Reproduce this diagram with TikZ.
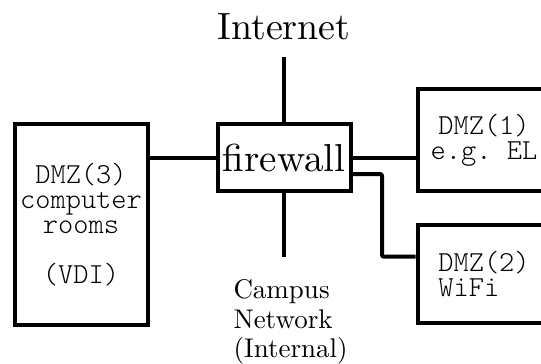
\documentclass[tikz,border=0pt]{standalone}
\usepackage{fontspec}
\setmainfont{lmroman10-regular.otf}
\setmonofont{lmmonolt10-regular.otf}
\usetikzlibrary{positioning}
\usetikzlibrary{calc}
\tikzstyle{link} = [draw, line width=4pt]

\begin{document}
\begin{tikzpicture}[x=1pt, y=-1pt,
        zone/.style={draw, line width=4pt, rectangle, minimum width=133pt,
            inner sep=0pt, font=\fontsize{29}{25}\selectfont\ttfamily},
        caption/.style={inner sep=0pt}]
        \useasboundingbox (0,0) rectangle (541,364);
        \clip (0,0) rectangle (541,364);
        %% Vertices
        \node [zone, minimum height=201pt, align=center] at (81,224.5) (dmz3)
            {DMZ(3)\\computer\\rooms\\[25pt](VDI)};
        \node [zone, minimum width=133pt, minimum height=67pt,
            font=\fontsize{39}{40}\selectfont] at (284,157.5) (fw) {firewall};
        \node [zone, minimum height=101.4pt, align=center] at (484,140) (dmz1)
            {DMZ(1)\\e.g. EL};
        \node [zone, minimum height=98.3pt, align=left] at (484,273.9) (dmz2)
            {DMZ(2)\\WiFi};
        \node [caption, font=\fontsize{38}{40}\selectfont, anchor=base]
            at (284,39.3) (inet) {Internet};
        \node [caption, font=\fontsize{27}{29.5}\selectfont, align=left,
            anchor=north west] at (233.3,279.3) (campus)
            {Campus\\Network\\(Internal)};
        \coordinate (lan) at (284,257.3);
        %% Arcs
        \path [link, shorten <=17.4pt] (inet.south) -- (fw.north);
        \path [link] (fw.south) -- (lan);
        \path [link] (fw.west) -- (fw.west -| dmz3.east);
        \path [link] (fw.east) -- (fw.east -| dmz1.west);
        \path [link, rounded corners=2pt] ([yshift=-16.5pt]fw.east)
            -| ([xshift=-33.5pt,yshift=17.2pt]dmz2.west)
            -- ([yshift=17.2pt]dmz2.west);
\end{tikzpicture}
\end{document}
